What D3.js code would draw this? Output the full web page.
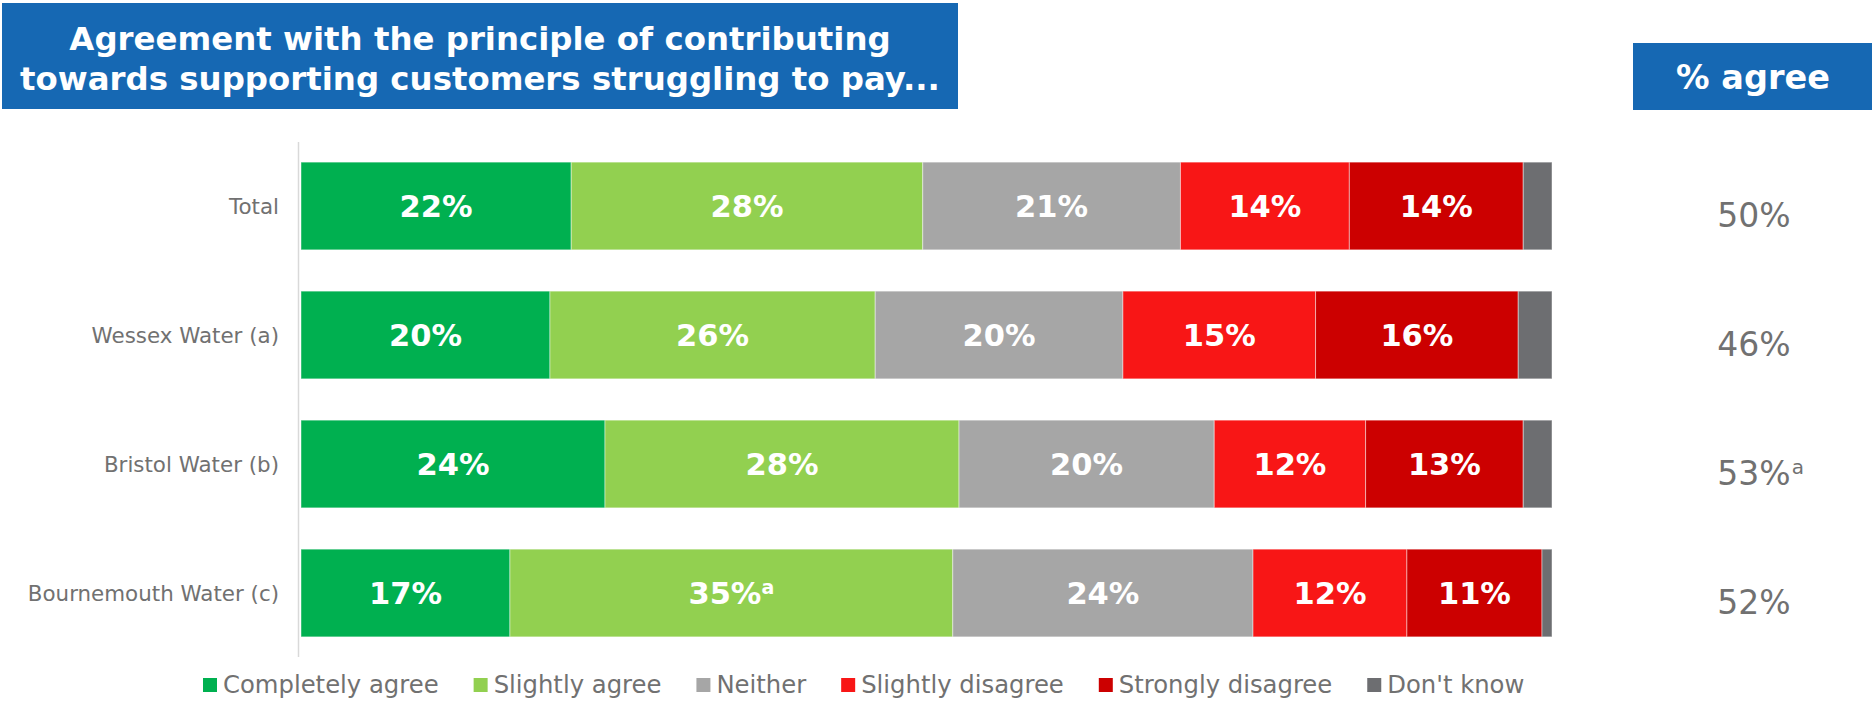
<!DOCTYPE html>
<html>
<head>
<meta charset="utf-8">
<script src="https://cdn.jsdelivr.net/npm/d3@7/dist/d3.min.js"></script>
<style>
  html, body { margin: 0; padding: 0; background: #ffffff; }
  svg { display: block; font-family: "DejaVu Sans", Verdana, sans-serif; }
</style>
</head>
<body>
<svg id="chart" width="1872" height="704"></svg>
<script>
// ---------- DATA ----------
const titleLines = ["Agreement with the principle of contributing", "towards supporting customers struggling to pay..."];
const sideTitle = "% agree";
const categories = ["Total", "Wessex Water (a)", "Bristol Water (b)", "Bournemouth Water (c)"];
const seriesNames = ["Completely agree", "Slightly agree", "Neither", "Slightly disagree", "Strongly disagree", "Don't know"];
const completelyAgree  = [21.6, 19.9, 24.3, 16.7];
const slightlyAgree    = [28.1, 26.0, 28.3, 35.4];
const neither          = [20.6, 19.8, 20.4, 24.0];
const slightlyDisagree = [13.5, 15.4, 12.1, 12.3];
const stronglyDisagree = [13.9, 16.2, 12.6, 10.8];
const dontKnow         = [2.3, 2.7, 2.3, 0.8];
const slightlyAgreeSig = ["", "", "", "a"];
const percentAgree     = [50, 46, 53, 52];
const percentAgreeSig  = ["", "", "a", ""];
const seriesColors = ["#00B050", "#92D050", "#A6A6A6", "#F81616", "#CC0000", "#6D6E71"];

// ---------- BUILD ----------
const seriesValues = [completelyAgree, slightlyAgree, neither, slightlyDisagree, stronglyDisagree, dontKnow];
const seriesSig = [null, slightlyAgreeSig, null, null, null, null];
const showLabel = [true, true, true, true, true, false];

const rows = categories.map((c, i) => {
  const r = { category: c };
  seriesNames.forEach((s, k) => { r[s] = seriesValues[k][i]; });
  return r;
});
const stacked = d3.stack().keys(seriesNames)(rows);

const svg = d3.select("#chart");
const W = 1872, H = 704;
const grey = "#717171";

const x = d3.scaleLinear().domain([0, 100]).range([301, 1552]);
const y = d3.scaleBand().domain(categories).range([142, 657]).paddingInner(0.32).paddingOuter(0.156);
const color = d3.scaleOrdinal().domain(seriesNames).range(seriesColors);

// title box
svg.append("rect").attr("x", 2).attr("y", 3).attr("width", 956).attr("height", 106).attr("fill", "#1668B3");
svg.append("g").selectAll("text").data(titleLines).join("text")
  .attr("x", 480).attr("y", (d, i) => 50 + i * 40)
  .attr("text-anchor", "middle").attr("fill", "#ffffff")
  .attr("font-weight", "bold").attr("font-size", 32.4)
  .text(d => d);

// side title
svg.append("rect").attr("x", 1633).attr("y", 43).attr("width", W - 1633).attr("height", 67).attr("fill", "#1668B3");
svg.append("text").attr("x", 1753).attr("y", 89).attr("text-anchor", "middle")
  .attr("fill", "#ffffff").attr("font-weight", "bold").attr("font-size", 33.5).text(sideTitle);

// axis line (category axis)
svg.append("line").attr("x1", 298.5).attr("x2", 298.5).attr("y1", 142).attr("y2", 657)
  .attr("stroke", "#D9D9D9").attr("stroke-width", 1.5);

// category labels
const yAxis = d3.axisLeft(y).tickSize(0).tickPadding(0);
const gAxis = svg.append("g").attr("transform", "translate(279,0)").call(yAxis);
gAxis.select(".domain").remove();
gAxis.selectAll("text").attr("font-size", 21.4).attr("fill", grey)
  .attr("font-family", "DejaVu Sans, Verdana, sans-serif").attr("dy", "0.36em").attr("x", 0);

// bars
const layers = svg.append("g").selectAll("g").data(stacked).join("g")
  .attr("fill", d => color(d.key));
layers.selectAll("rect").data(d => d).join("rect")
  .attr("x", d => x(d[0])).attr("width", d => x(d[1]) - x(d[0]))
  .attr("y", d => y(d.data.category)).attr("height", y.bandwidth())
  .attr("stroke", "rgba(255,255,255,0.45)").attr("stroke-width", 1);

// bar labels
stacked.forEach((layer, k) => {
  if (!showLabel[k]) return;
  layer.forEach((d, i) => {
    const t = svg.append("text")
      .attr("x", (x(d[0]) + x(d[1])) / 2)
      .attr("y", y(d.data.category) + y.bandwidth() / 2 + 11)
      .attr("text-anchor", "middle").attr("fill", "#ffffff")
      .attr("font-weight", "bold").attr("font-size", 30.5);
    t.append("tspan").text(Math.round(d[1] - d[0]) + "%");
    const sig = seriesSig[k] ? seriesSig[k][i] : "";
    if (sig) t.append("tspan").attr("font-size", 19).attr("dy", -10).text(sig);
  });
});

// % agree column
categories.forEach((c, i) => {
  const cy = y(c) + y.bandwidth() / 2 + 21;
  const main = svg.append("text").attr("x", 1754).attr("y", cy).attr("text-anchor", "middle")
    .attr("fill", grey).attr("font-size", 33).text(percentAgree[i] + "%");
  if (percentAgreeSig[i]) {
    const w = main.node().getComputedTextLength();
    svg.append("text").attr("x", 1754 + w / 2 + 1).attr("y", cy - 11)
      .attr("fill", grey).attr("font-size", 20).text(percentAgreeSig[i]);
  }
});

// legend
const lg = svg.append("g");
let lx = 203;
seriesNames.forEach((s, k) => {
  lg.append("rect").attr("x", lx).attr("y", 678).attr("width", 14).attr("height", 14).attr("fill", color(s));
  const t = lg.append("text").attr("x", lx + 20).attr("y", 693).attr("fill", grey)
    .attr("font-size", 24.3).text(s);
  lx += 20 + t.node().getComputedTextLength() + 35;
});
</script>
</body>
</html>
